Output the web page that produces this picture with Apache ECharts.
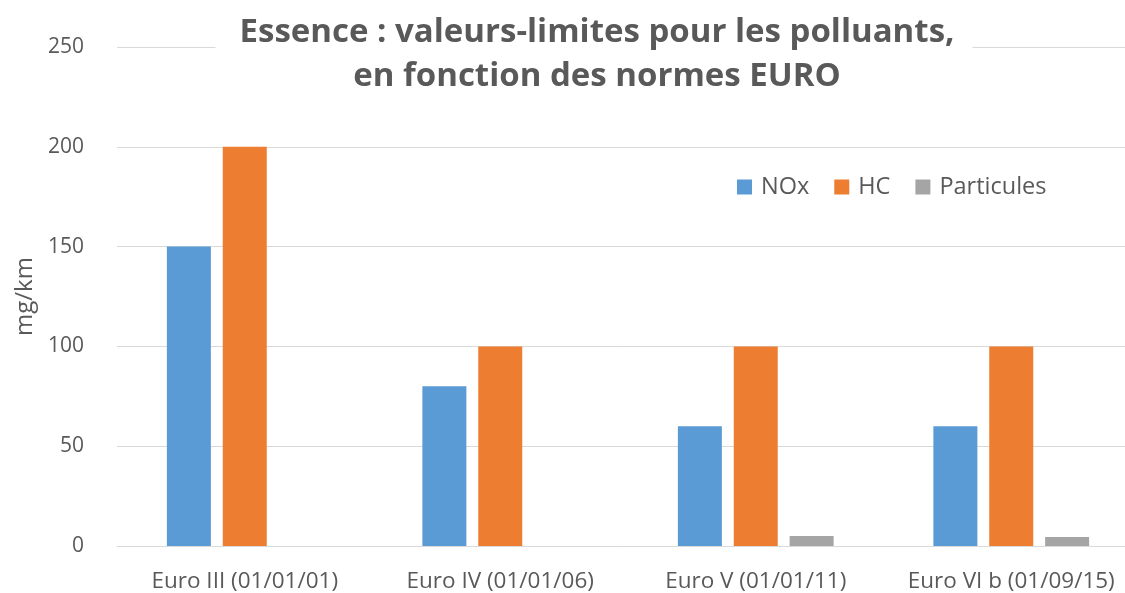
<!DOCTYPE html>
<html>
<head>
<meta charset="utf-8">
<script src="https://cdn.jsdelivr.net/npm/echarts@6/dist/echarts.min.js"></script>
<style>
  html, body { margin: 0; padding: 0; background: #fff; }
  #main { width: 1125px; height: 593px; }
</style>
</head>
<body>
<div id="main"></div>
<script>
var myChart = echarts.init(document.getElementById('main'));

let categories = ['Euro III (01/01/01)', 'Euro IV (01/01/06)', 'Euro V (01/01/11)', 'Euro VI b (01/09/15)'],
    noxData = [150, 80, 60, 60],
    hcData = [200, 100, 100, 100],
    partData = [0, 0, 5, 4.5],
    yTicks = [0, 50, 100, 150, 200, 250];

var font = 'Open Sans';

var option = {
  backgroundColor: '#fff',
  textStyle: { fontFamily: font },
  title: {
    text: 'Essence : valeurs-limites pour les polluants,\nen fonction des normes EURO',
    left: 573,
    top: 9,
    textAlign: 'center',
    backgroundColor: '#fff',
    padding: [2, 18, 2, 24],
    textStyle: {
      fontFamily: font,
      fontSize: 33,
      fontWeight: 'bold',
      color: '#595959',
      lineHeight: 44
    }
  },
  legend: {
    data: ['NOx', 'HC', 'Particules'],
    left: 732,
    top: 170,
    itemWidth: 15,
    itemHeight: 15,
    itemGap: 25,
    icon: 'rect',
    textStyle: { fontFamily: font, fontSize: 23.5, color: '#595959', padding: [0, 0, 0, 4] }
  },
  grid: {
    left: 117,
    width: 1022,
    top: 47,
    bottom: 47,
    outerBoundsMode: 'none',
    containLabel: false
  },
  xAxis: {
    type: 'category',
    data: categories,
    axisTick: { show: false },
    axisLine: { lineStyle: { color: '#d9d9d9', width: 1 } },
    axisLabel: { fontFamily: font, fontSize: 22.5, color: '#595959', margin: 24, interval: 0 }
  },
  yAxis: {
    type: 'value',
    min: yTicks[0],
    max: yTicks[yTicks.length - 1],
    interval: 50,
    name: 'mg/km',
    nameLocation: 'middle',
    nameGap: 77,
    nameRotate: 90,
    nameTextStyle: { fontFamily: font, fontSize: 24, color: '#595959' },
    axisLine: { show: false },
    axisTick: { show: false },
    axisLabel: { fontFamily: font, fontSize: 21, color: '#595959', margin: 33 },
    splitLine: { lineStyle: { color: '#d9d9d9', width: 1 } }
  },
  series: [
    { name: 'NOx', type: 'bar', data: noxData, barWidth: 44, barGap: '27%',
      itemStyle: { color: '#5b9bd5' } },
    { name: 'HC', type: 'bar', data: hcData, barWidth: 44, barGap: '27%',
      itemStyle: { color: '#ed7d31' } },
    { name: 'Particules', type: 'bar', data: partData, barWidth: 44, barGap: '27%',
      itemStyle: { color: '#a5a5a5' } }
  ]
};
myChart.setOption(option);
</script>
</body>
</html>
